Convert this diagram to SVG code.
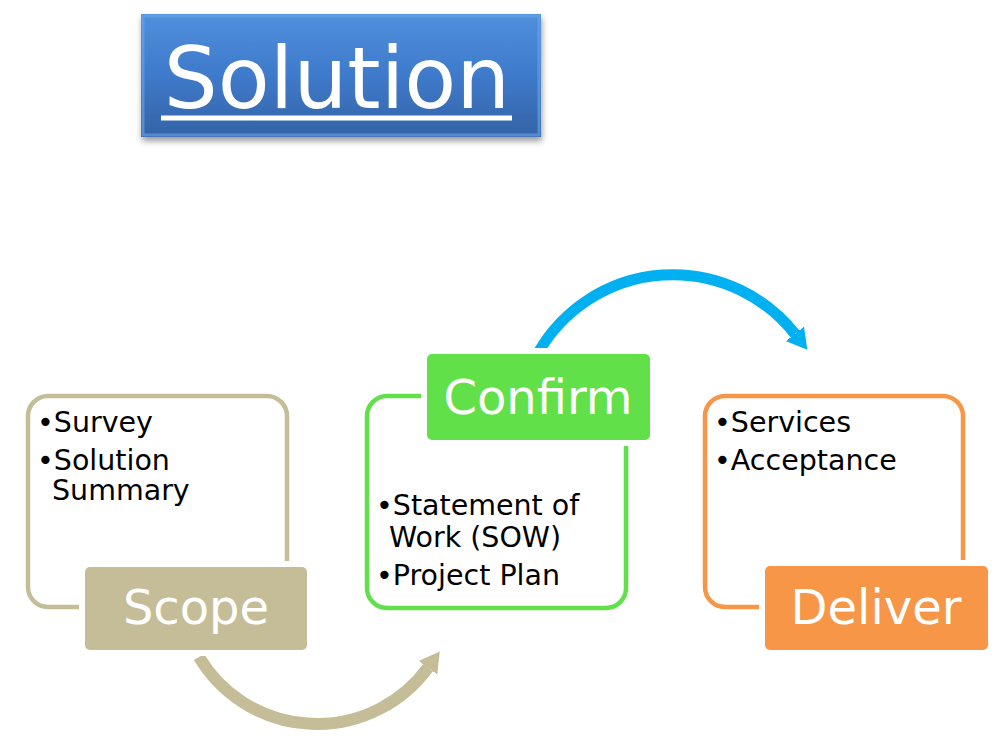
<svg xmlns="http://www.w3.org/2000/svg" width="999" height="736" viewBox="0 0 999 736">
<style>
  .frame{fill:none;stroke-width:4.5}
  .lbl{font-family:"DejaVu Sans","Verdana",sans-serif;font-size:48px;fill:#fff;text-anchor:middle}
  .bul{font-family:"DejaVu Sans","Verdana",sans-serif;font-size:28.5px;fill:#000}
  .gap{fill:#fff}
</style>
<defs>
  <linearGradient id="tg" x1="0" y1="0" x2="0" y2="1">
    <stop offset="0" stop-color="#4f90dd"/>
    <stop offset="0.5" stop-color="#3f7acb"/>
    <stop offset="1" stop-color="#3463a6"/>
  </linearGradient>
  <filter id="sh" x="-10%" y="-10%" width="120%" height="140%">
    <feDropShadow dx="1" dy="4" stdDeviation="3" flood-color="#000" flood-opacity="0.4"/>
  </filter>
  <marker id="hb" markerUnits="userSpaceOnUse" markerWidth="30" markerHeight="30" refX="0" refY="12" orient="auto">
    <path d="M-1,0 L20,12 L-1,24 Z" fill="#00b0f0"/>
  </marker>
  <marker id="ht" markerUnits="userSpaceOnUse" markerWidth="30" markerHeight="30" refX="0" refY="12" orient="auto">
    <path d="M-1,0 L20,12 L-1,24 Z" fill="#c4bd97"/>
  </marker>
</defs>
<rect width="999" height="736" fill="#fff"/>

<g id="title">
  <rect x="141" y="14" width="400" height="123" fill="url(#tg)" filter="url(#sh)"/>
  <rect x="143" y="16" width="396" height="119" fill="none" stroke="#6aa6ea" stroke-opacity="0.6" stroke-width="3"/>
  <text x="337" y="108" font-family="DejaVu Sans, Verdana, sans-serif" font-size="85" fill="#fff" text-anchor="middle">Solution</text>
  <rect x="161" y="115.5" width="351" height="5" fill="#fff"/>
</g>

<g id="connectors">
  <path d="M538.6,352 A155.3,155.3 0 0 1 795,334" fill="none" stroke="#00b0f0" stroke-width="11" marker-end="url(#hb)"/>
  <path d="M199,657 A137.4,137.4 0 0 0 428,667.6" fill="none" stroke="#c4bd97" stroke-width="12" marker-end="url(#ht)"/>
</g>

<g id="scope">
  <rect class="frame" x="28" y="396" width="259" height="211" rx="20" stroke="#c4bd97"/>
  <rect class="gap" x="79" y="561" width="234" height="95" rx="8"/>
  <rect x="85" y="567" width="222" height="83" rx="5" fill="#c4bd97"/>
  <text class="lbl" x="196" y="624">Scope</text>
  <text class="bul" x="37" y="432">•Survey</text>
  <text class="bul" x="37" y="470">•Solution</text>
  <text class="bul" x="52" y="500">Summary</text>
</g>

<g id="confirm">
  <rect class="frame" x="367" y="396" width="259" height="212" rx="20" stroke="#62e04a"/>
  <rect class="gap" x="421" y="348" width="235" height="98" rx="8"/>
  <rect x="427" y="354" width="223" height="86" rx="5" fill="#62e04a"/>
  <text class="lbl" x="538" y="414">Confirm</text>
  <text class="bul" x="376" y="515">•Statement of</text>
  <text class="bul" x="389" y="547">Work (SOW)</text>
  <text class="bul" x="376" y="585">•Project Plan</text>
</g>

<g id="deliver">
  <rect class="frame" x="705" y="396" width="258" height="211" rx="20" stroke="#f79646"/>
  <rect class="gap" x="759" y="560" width="235" height="96" rx="8"/>
  <rect x="765" y="566" width="223" height="84" rx="5" fill="#f79646"/>
  <text class="lbl" x="876" y="624">Deliver</text>
  <text class="bul" x="714" y="432">•Services</text>
  <text class="bul" x="714" y="470">•Acceptance</text>
</g>
</svg>
